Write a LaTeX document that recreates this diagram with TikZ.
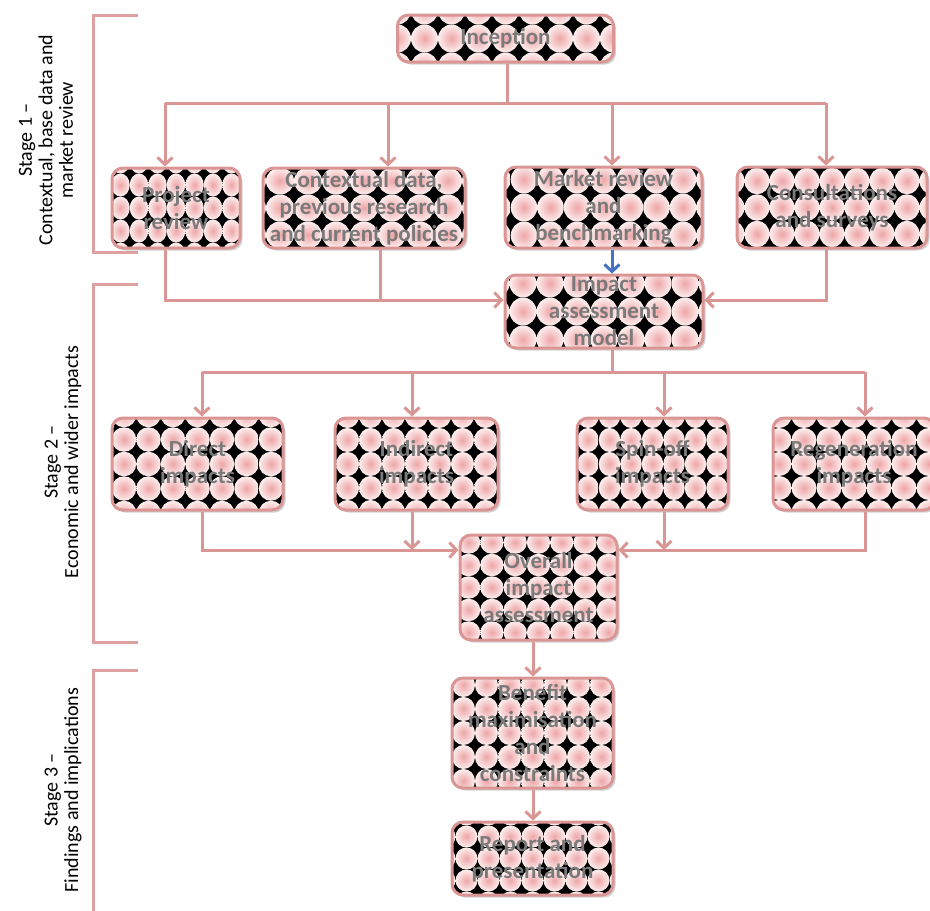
\documentclass[tikz,border=0pt]{standalone}
\usepackage{fontspec}
\setmainfont{Carlito}
\usetikzlibrary{calc,arrows.meta,shadows}

\definecolor{linepink}{RGB}{217,150,148}
\definecolor{brackpink}{RGB}{222,160,160}
\definecolor{circin}{RGB}{238,165,167}
\definecolor{circout}{RGB}{253,238,238}
\definecolor{boxtext}{RGB}{122,122,122}
\definecolor{flowblue}{RGB}{68,114,196}

\tikzset{
  % black ground with a grid of shaded pink discs: #1,#2 cell size, #3,#4 half counts
  tile/.style n args={4}{path picture={
      \fill[black] (path picture bounding box.south west) rectangle (path picture bounding box.north east);
      \foreach \i in {-#3,...,#3}{
        \foreach \j in {-#4,...,#4}{
          \shade[inner color=circin, outer color=circout]
            ($(path picture bounding box.center)+(\i*#1,\j*#2)$)
            ellipse [x radius=#1*0.5pt, y radius=#2*0.5pt];
        }}
    }},
  procbox/.style={draw=linepink, line width=3pt, rounded corners=11pt, inner sep=0pt,
    drop shadow={opacity=0.35, shadow xshift=2.5pt, shadow yshift=-2.5pt}},
  boxtxt/.style={font=\bfseries\fontsize{23}{27}\selectfont, text=boxtext, align=center, inner sep=0pt},
  link/.style={draw=linepink, line width=3pt},
  arr/.style={link, -{Straight Barb[length=7pt,width=15pt]}},
  bracket/.style={draw=brackpink, line width=3pt},
  stagelab/.style={rotate=90, align=center, font=\fontsize{20}{20.5}\selectfont}
}

\begin{document}
\begin{tikzpicture}[x=1pt,y=-1pt]
\useasboundingbox (0,0) rectangle (930,911);

% stage brackets and titles
\draw[bracket] (138,15) -- (93,15) -- (93,252) -- (138,252);
\draw[bracket] (138,284) -- (93,284) -- (93,642) -- (138,642);
\draw[bracket] (138,670) -- (93,670) -- (93,911);
\node[stagelab] (s1) at (46,140) {Stage 1 –\\Contextual, base data and\\market review};
\node[stagelab] (s2) at (63,462) {Stage 2 –\\Economic and wider impacts};
\node[stagelab] (s3) at (63,790) {Stage 3 –\\Findings and implications};

% process boxes
\node[procbox, minimum width=216pt, minimum height=47pt, tile={27}{28}{5}{2},
  label={[boxtxt]center:Inception}] (inc) at (505.5,38.5) {};

\node[procbox, minimum width=128pt, minimum height=80pt, tile={18.5}{23}{4}{2},
  label={[boxtxt]center:{Project\\review}}] (pr) at (176,208) {};
\node[procbox, minimum width=202pt, minimum height=80pt, tile={28}{27}{4}{2},
  label={[boxtxt]center:{Contextual data,\\previous research\\and current policies}}] (ctx) at (364,208) {};
\node[procbox, minimum width=197pt, minimum height=81pt, tile={26.5}{28}{4}{2},
  label={[boxtxt]center:{Market review\\and\\benchmarking}}] (mkt) at (603.5,207.5) {};
\node[procbox, minimum width=190pt, minimum height=81pt, tile={25}{26.5}{4}{2},
  label={[boxtxt]center:{Consultations\\and surveys}}] (con) at (832,207.5) {};

\node[procbox, minimum width=198pt, minimum height=73pt, tile={27}{28}{4}{2},
  label={[boxtxt]center:{Impact\\assessment\\model}}] (mdl) at (604,311.5) {};

\node[procbox, minimum width=171pt, minimum height=92pt, tile={24.5}{24.5}{4}{2},
  label={[boxtxt]center:{Direct\\impacts}}] (dir) at (197.5,464) {};
\node[procbox, minimum width=163pt, minimum height=92pt, tile={23}{24}{4}{2},
  label={[boxtxt]center:{Indirect\\impacts}}] (ind) at (416.5,464) {};
\node[procbox, minimum width=151pt, minimum height=92pt, tile={21.5}{24}{4}{2},
  label={[boxtxt]center:{Spin-off\\impacts}}] (spn) at (652.5,464) {};
\node[procbox, minimum width=162pt, minimum height=92pt, tile={25}{24}{4}{2},
  label={[boxtxt]center:{Regeneration\\impacts}}] (reg) at (854,464) {};

\node[procbox, minimum width=157pt, minimum height=105pt, tile={23.3}{22.5}{4}{3},
  label={[boxtxt]center:{Overall\\impact\\assessment}}] (ovr) at (538.5,587.5) {};
\node[procbox, minimum width=161pt, minimum height=110pt, tile={23}{24}{4}{3},
  label={[boxtxt]center:{Benefit\\maximisation\\and\\constraints}}] (ben) at (532.5,733) {};
\node[procbox, minimum width=161pt, minimum height=73pt, tile={22}{22}{4}{2},
  label={[boxtxt]center:{Report and\\presentation}}] (rep) at (532.5,858.5) {};

% stage 1 distribution
\coordinate (busA) at (507,103);
\coordinate (busAL) at (165,103);
\coordinate (busAR) at (826,103);
\coordinate (dC) at (388,103);
\coordinate (dM) at (612,103);
\draw[link] (inc.south -| busA) -- (busA);
\draw[link] (busAL) -- (busAR);
\draw[arr] (busAL) -- (busAL |- pr.north);
\draw[arr] (dC) -- (dC |- ctx.north);
\draw[arr] (dM) -- (dM |- mkt.north);
\draw[arr] (busAR) -- (busAR |- con.north);

% stage 1 into the model
\coordinate (jL) at (165,300);
\coordinate (jC) at (380,300);
\coordinate (jR) at (826,300);
\coordinate (jM) at (612,300);
\draw[arr] (jL |- pr.south) -- (jL) -- (jL -| mdl.west);
\draw[link] (jC |- ctx.south) -- (jC);
\draw[arr] (jR |- con.south) -- (jR) -- (jR -| mdl.east);
\draw[arr, draw=flowblue] (jM |- mkt.south) -- (jM |- mdl.north);

% stage 2 distribution
\coordinate (busB) at (612,372);
\coordinate (busBL) at (202,372);
\coordinate (busBR) at (865,372);
\coordinate (eI) at (412,372);
\coordinate (eS) at (664,372);
\draw[link] (busB |- mdl.south) -- (busB);
\draw[link] (busBL) -- (busBR);
\draw[arr] (busBL) -- (busBL |- dir.north);
\draw[arr] (eI) -- (eI |- ind.north);
\draw[arr] (eS) -- (eS |- spn.north);
\draw[arr] (busBR) -- (busBR |- reg.north);

% stage 2 gathering
\coordinate (kL) at (202,550);
\coordinate (kI) at (412,550);
\coordinate (kS) at (664,550);
\coordinate (kR) at (865,550);
\draw[arr] (kL |- dir.south) -- (kL) -- (kL -| ovr.west);
\draw[arr] (kI |- ind.south) -- (kI);
\draw[arr] (kS |- spn.south) -- (kS);
\draw[arr] (kR |- reg.south) -- (kR) -- (kR -| ovr.east);

% stage 3 chain
\coordinate (vx) at (533,0);
\draw[arr] (vx |- ovr.south) -- (vx |- ben.north);
\draw[arr] (vx |- ben.south) -- (vx |- rep.north);
\end{tikzpicture}
\end{document}
